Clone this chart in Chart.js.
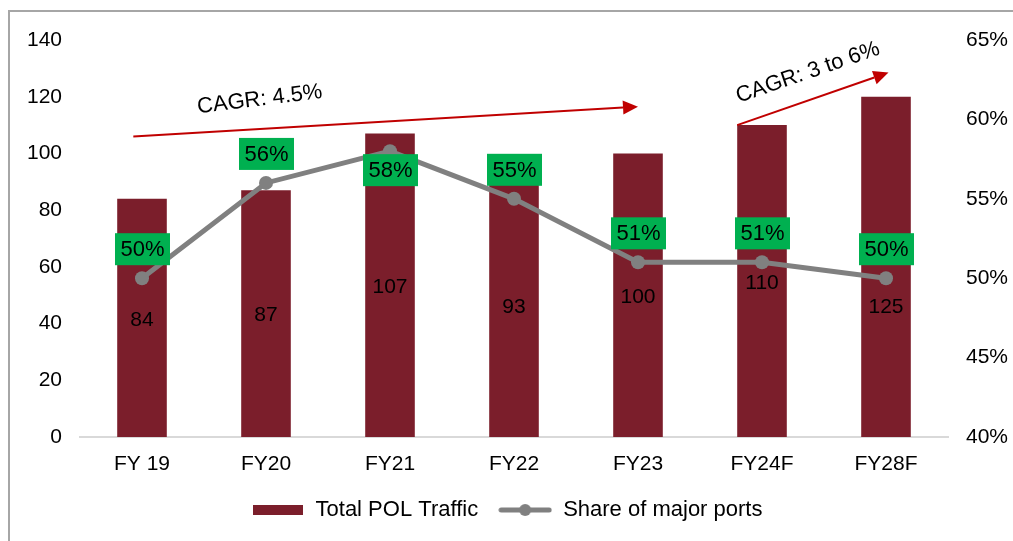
<!DOCTYPE html>
<html>
<head>
<meta charset="utf-8">
<script src="https://cdn.jsdelivr.net/npm/chart.js@4"></script>
<style>
  html, body { margin: 0; padding: 0; background: #fff; }
  #wrap { width: 1013px; height: 541px; }
</style>
</head>
<body>
<div id="wrap"><canvas id="polChart" width="1013" height="541"></canvas></div>
<script>
// data doc tu hinh
const years = ["FY 19", "FY20", "FY21", "FY22", "FY23", "FY24F", "FY28F"];
const polTraffic = [84, 87, 107, 93, 100, 110, 120];
const polTrafficLabels = ["84", "87", "107", "93", "100", "110", "125"];
const majorPortShare = [50, 56, 58, 55, 51, 51, 50];
const leftTicks = [0, 20, 40, 60, 80, 100, 120, 140];
const rightTicks = [40, 45, 50, 55, 60, 65];

const BAR = "#7B1E2B";
const LINE = "#808080";
const GREEN = "#00B050";
const ARROW = "#C00000";
const FONT = "'Liberation Sans', Arial, sans-serif";

function makeSwatch(w, h, draw) {
  const c = document.createElement("canvas");
  c.width = w; c.height = h;
  draw(c.getContext("2d"));
  return c;
}
const barSwatch = makeSwatch(50, 10, g => { g.fillStyle = BAR; g.fillRect(0, 0, 50, 10); });
const lineSwatch = makeSwatch(54, 16, g => {
  g.strokeStyle = LINE; g.lineWidth = 5; g.lineCap = "round";
  g.beginPath(); g.moveTo(3, 8); g.lineTo(51, 8); g.stroke();
  g.fillStyle = LINE; g.beginPath(); g.arc(27, 8, 6, 0, Math.PI * 2); g.fill();
});

// khung + nhan + mui ten
const extras = {
  id: "extras",
  beforeDraw(chart) {
    const c = chart.ctx;
    c.save();
    c.strokeStyle = "#A6A6A6";
    c.lineWidth = 2;
    c.beginPath();
    c.moveTo(9, 541); c.lineTo(9, 11); c.lineTo(1013, 11);
    c.stroke();
    c.restore();
  },
  afterDatasetsDraw(chart) {
    const c = chart.ctx;
    const x = chart.scales.x, y = chart.scales.y;

    // so lieu trong cot
    c.save();
    c.font = "21px " + FONT;
    c.fillStyle = "#000";
    c.textAlign = "center";
    c.textBaseline = "middle";
    const shiftDown = { 6: 38 };
    chart.getDatasetMeta(0).data.forEach((bar, i) => {
      c.fillText(polTrafficLabels[i], bar.x, (bar.y + bar.base) / 2 + 2 + (shiftDown[i] || 0));
    });

    // nhan % o xanh
    const below = [2];
    chart.getDatasetMeta(1).data.forEach((pt, i) => {
      const cy = below.includes(i) ? pt.y + 19 : pt.y - 29;
      c.fillStyle = GREEN;
      c.fillRect(pt.x - 27, cy - 16, 55, 32);
      c.fillStyle = "#000";
      c.font = "22px " + FONT;
      c.fillText(majorPortShare[i] + "%", pt.x + 0.5, cy + 1);
    });

    // mui ten CAGR
    function arrow(i0, v0, i1, v1) {
      const ax = x.getPixelForValue(i0), ay = y.getPixelForValue(v0);
      const bx = x.getPixelForValue(i1), by = y.getPixelForValue(v1);
      const ang = Math.atan2(by - ay, bx - ax);
      const hl = 15, hw = 7;
      const ex = bx - hl * Math.cos(ang), ey = by - hl * Math.sin(ang);
      c.strokeStyle = ARROW; c.fillStyle = ARROW; c.lineWidth = 2;
      c.beginPath(); c.moveTo(ax, ay); c.lineTo(ex, ey); c.stroke();
      c.beginPath();
      c.moveTo(bx, by);
      c.lineTo(ex + hw * Math.sin(ang), ey - hw * Math.cos(ang));
      c.lineTo(ex - hw * Math.sin(ang), ey + hw * Math.cos(ang));
      c.closePath(); c.fill();
    }
    function label(txt, i, v, deg) {
      c.save();
      c.translate(x.getPixelForValue(i), y.getPixelForValue(v));
      c.rotate(deg * Math.PI / 180);
      c.font = "22px " + FONT;
      c.fillStyle = "#000";
      c.fillText(txt, 0, 0);
      c.restore();
    }
    arrow(-0.07, 106, 4.0, 116.5);
    arrow(4.8, 110, 6.02, 128.5);
    label("CAGR: 4.5%", 0.95, 119, -7);
    label("CAGR: 3 to 6%", 5.37, 128.5, -19);
    c.restore();
  }
};

const tickFont = { family: FONT, size: 21 };

new Chart(document.getElementById("polChart"), {
  type: "bar",
  data: {
    labels: years,
    datasets: [
      {
        label: "Total POL Traffic",
        data: polTraffic,
        backgroundColor: BAR,
        yAxisID: "y",
        order: 1,
        barPercentage: 0.4,
        categoryPercentage: 1
      },
      {
        label: "Share of major ports",
        type: "line",
        data: majorPortShare,
        yAxisID: "y1",
        order: 0,
        borderColor: LINE,
        backgroundColor: LINE,
        borderWidth: 5,
        pointRadius: 7,
        pointBackgroundColor: LINE,
        pointBorderWidth: 0,
        tension: 0,
        fill: false
      }
    ]
  },
  options: {
    responsive: false,
    animation: false,
    events: [],
    layout: { padding: { top: 40, bottom: 10, left: 0, right: 0 } },
    scales: {
      x: {
        grid: { display: false, drawTicks: false },
        border: { display: true, color: "#D9D9D9", width: 2 },
        ticks: { color: "#000", font: tickFont, padding: 15, maxRotation: 0 },
        afterFit(s) { s.height = 42; }
      },
      y: {
        position: "left",
        min: 0, max: 140,
        grid: { display: false, drawTicks: false },
        border: { display: false },
        afterBuildTicks(s) { s.ticks = leftTicks.map(v => ({ value: v })); },
        ticks: { color: "#000", font: tickFont, padding: 18 },
        afterFit(s) { s.width = 80; }
      },
      y1: {
        position: "right",
        min: 40, max: 65,
        grid: { display: false, drawTicks: false },
        border: { display: false },
        afterBuildTicks(s) { s.ticks = rightTicks.map(v => ({ value: v })); },
        ticks: { color: "#000", font: tickFont, padding: 18, callback: v => v + "%" },
        afterFit(s) { s.width = 65; }
      }
    },
    plugins: {
      tooltip: { enabled: false },
      legend: {
        position: "bottom",
        labels: {
          usePointStyle: true,
          pointStyleWidth: 54,
          boxHeight: 18,
          padding: 20,
          color: "#000",
          font: { family: FONT, size: 22 },
          generateLabels: () => [
            { text: "Total POL Traffic", pointStyle: barSwatch, fillStyle: BAR, strokeStyle: BAR, lineWidth: 0, datasetIndex: 0, hidden: false, fontColor: "#000" },
            { text: "Share of major ports", pointStyle: lineSwatch, fillStyle: LINE, strokeStyle: LINE, lineWidth: 0, datasetIndex: 1, hidden: false, fontColor: "#000" }
          ]
        }
      }
    }
  },
  plugins: [extras]
});
</script>
</body>
</html>
